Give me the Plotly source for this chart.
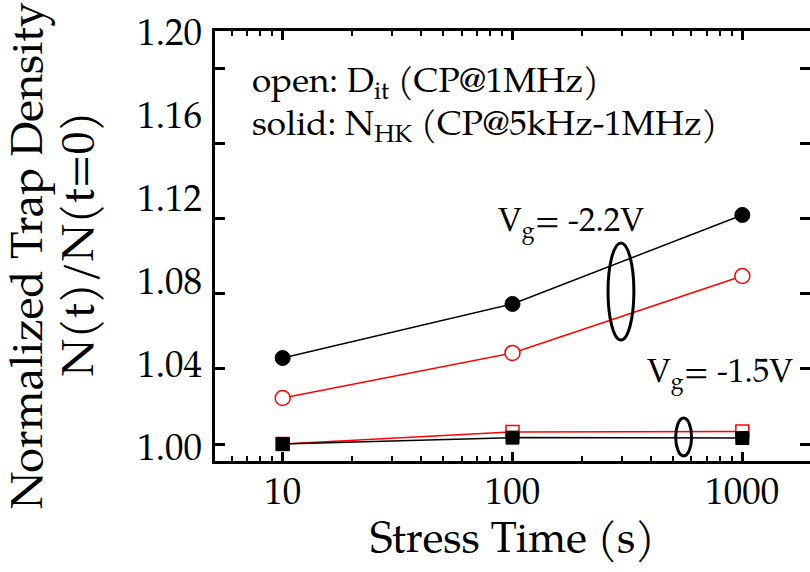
import plotly.graph_objects as go

# ---------------- data ----------------
stress_time = [10, 100, 1000]
nhk_22 = [1.0458, 1.0746, 1.1220]   # solid circles, Vg=-2.2V
dit_22 = [1.0245, 1.0485, 1.0895]   # open circles, Vg=-2.2V
nhk_15 = [1.0000, 1.0034, 1.0032]   # solid squares, Vg=-1.5V
dit_15 = [1.0000, 1.0064, 1.0067]   # open squares, Vg=-1.5V

x_ticks = [10, 100, 1000]
x_minor = [6, 7, 8, 9, 20, 30, 40, 50, 60, 70, 80, 90, 200, 300, 400, 500, 600, 700, 800, 900]
y_ticks = [1.00, 1.04, 1.08, 1.12, 1.16, 1.20]
y_ticktext = ["1.00", "1.04", "1.08", "1.12", "1.16", "1.20"]

FONT = "Palatino Linotype, Book Antiqua, Palatino, P052, URW Palladio L, TeX Gyre Pagella, Liberation Serif, serif"
RED = "#ff0000"
BLACK = "#000000"

fig = go.Figure()

fig.add_trace(go.Scatter(x=stress_time, y=dit_22, mode="lines+markers",
                         line=dict(color=RED, width=1.5),
                         marker=dict(symbol="circle", size=15, color="white",
                                     line=dict(color=RED, width=1.5)),
                         showlegend=False, hoverinfo="skip"))
fig.add_trace(go.Scatter(x=stress_time, y=nhk_22, mode="lines+markers",
                         line=dict(color=BLACK, width=1.5),
                         marker=dict(symbol="circle", size=15, color=BLACK,
                                     line=dict(color=BLACK, width=1)),
                         showlegend=False, hoverinfo="skip"))
fig.add_trace(go.Scatter(x=stress_time, y=dit_15, mode="lines+markers",
                         line=dict(color=RED, width=1.5),
                         marker=dict(symbol="square", size=13, color="white",
                                     line=dict(color=RED, width=1.5)),
                         showlegend=False, hoverinfo="skip"))
fig.add_trace(go.Scatter(x=stress_time, y=nhk_15, mode="lines+markers",
                         line=dict(color=BLACK, width=1.5),
                         marker=dict(symbol="square", size=13, color=BLACK,
                                     line=dict(color=BLACK, width=1)),
                         showlegend=False, hoverinfo="skip"))
# empty trace so that the label axis is realised
fig.add_trace(go.Scatter(x=[None], y=[None], yaxis="y2", mode="markers",
                         showlegend=False, hoverinfo="skip"))

fig.update_layout(
    width=813, height=572,
    margin=dict(l=215, r=0, t=31, b=111),
    paper_bgcolor="white", plot_bgcolor="white",
    font=dict(family=FONT, color=BLACK),
    xaxis=dict(
        type="log", range=[0.70563, 3.29437],
        tickvals=x_ticks, ticktext=[str(v) for v in x_ticks],
        ticks="inside", ticklen=9, tickwidth=3, tickcolor=BLACK,
        minor=dict(tickvals=x_minor, ticks="inside", ticklen=5, tickwidth=2, tickcolor=BLACK),
        showline=True, linewidth=3, linecolor=BLACK, mirror="ticks",
        showgrid=False, zeroline=False,
        tickfont=dict(size=37, family=FONT),
        ticklabelstandoff=-4,
        title=dict(text="Stress Time (s)", font=dict(size=43, family=FONT), standoff=9),
    ),
    yaxis=dict(
        range=[0.99095, 1.21997],
        tickvals=y_ticks, showticklabels=False,
        ticks="inside", ticklen=10, tickwidth=3, tickcolor=BLACK,
        showline=True, linewidth=3, linecolor=BLACK, mirror="ticks",
        showgrid=False, zeroline=False,
    ),
    yaxis2=dict(
        overlaying="y", side="left", anchor="x",
        range=[0.99311, 1.20034],
        tickvals=y_ticks, ticktext=y_ticktext,
        ticks="", showline=False, showgrid=False, zeroline=False,
        tickfont=dict(size=37, family=FONT),
        ticklabelstandoff=12,
    ),
)

# paper coordinates below are for a plot area 598 px wide (215..813) and 430 px tall (31..461)
ann_font = dict(family=FONT, size=35, color=BLACK)
vg_font = dict(family=FONT, size=33, color=BLACK)
fig.add_annotation(text="open: D<sub>it</sub> (CP@1MHz)", x=0.0602, y=0.8721,
                   xanchor="left", yanchor="middle", xref="paper", yref="paper",
                   showarrow=False, font=ann_font, borderpad=0)
fig.add_annotation(text="solid: N<sub>HK</sub> (CP@5kHz-1MHz)", x=0.0602, y=0.7721,
                   xanchor="left", yanchor="middle", xref="paper", yref="paper",
                   showarrow=False, font=ann_font, borderpad=0)
fig.add_annotation(text="V<sub>g</sub>= -2.2V", x=0.4732, y=0.5465,
                   xanchor="left", yanchor="middle", xref="paper", yref="paper",
                   showarrow=False, font=vg_font, borderpad=0)
fig.add_annotation(text="V<sub>g</sub>= -1.5V", x=0.7241, y=0.1953,
                   xanchor="left", yanchor="middle", xref="paper", yref="paper",
                   showarrow=False, font=vg_font, borderpad=0)

title_font = dict(family=FONT, size=45, color=BLACK)
fig.add_annotation(text="Normalized Trap Density", xref="paper", yref="paper",
                   x=-0.3077, y=0.4791, xanchor="center", yanchor="middle",
                   textangle=-90, showarrow=False, font=title_font, borderpad=0)
fig.add_annotation(text="N(t)/N(t=0)", xref="paper", yref="paper",
                   x=-0.2216, y=0.5047, xanchor="center", yanchor="middle",
                   textangle=-90, showarrow=False, font=title_font, borderpad=0)

# ellipses grouping the Vg series
fig.add_shape(type="circle", xref="paper", yref="paper",
              x0=0.66054, x1=0.70401, y0=0.28140, y1=0.50698,
              line=dict(color=BLACK, width=3))
fig.add_shape(type="circle", xref="paper", yref="paper",
              x0=0.77425, x1=0.80100, y0=0.01163, y1=0.1,
              line=dict(color=BLACK, width=3))

fig.write_html(
    "out.html",
    config={"displayModeBar": False},
    post_script=("document.documentElement.style.overflow='hidden';"
                 "document.body.style.overflow='hidden';"
                 "document.body.style.margin='0px';document.body.style.padding='0px';"),
)
